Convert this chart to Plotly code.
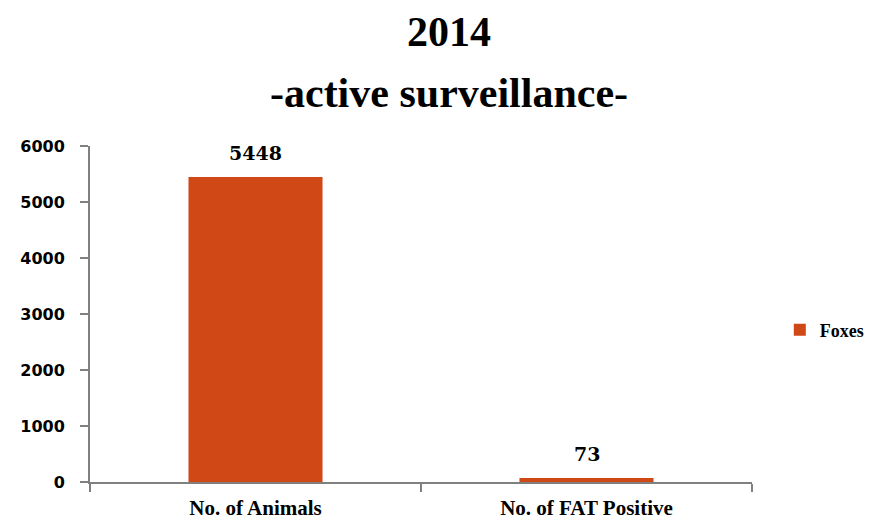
import plotly.graph_objects as go

# chart data
categories = ["No. of Animals", "No. of FAT Positive"]
foxes = [5448, 73]
y_ticks = [0, 1000, 2000, 3000, 4000, 5000, 6000]
title_lines = ["2014", "-active surveillance-"]

bar_color = "#D14817"
axis_color = "#808080"
serif = "Liberation Serif"

fig = go.Figure()
fig.add_trace(go.Bar(
	x=categories, y=foxes, name="Foxes",
	marker=dict(color=bar_color, line=dict(width=0)),
))

# value labels above the bars
for cat, val in zip(categories, foxes):
	fig.add_annotation(
		x=cat, y=val, text=str(val), showarrow=False,
		yanchor="middle", yshift=24,
		font=dict(family="DejaVu Serif", size=19, color="black", weight="bold"),
	)

# two-line title
for txt, ypos in zip(title_lines, [1.338, 1.157]):
	fig.add_annotation(
		x=0.542, y=ypos, xref="paper", yref="paper", text=txt, showarrow=False,
		xanchor="center", yanchor="middle",
		font=dict(family=serif, size=42, color="black", weight="bold"),
	)

fig.update_layout(
	width=881, height=520,
	paper_bgcolor="white", plot_bgcolor="white",
	margin=dict(l=82, r=137, t=138, b=46),
	bargap=0.595,
	legend=dict(
		x=1.042, xanchor="left", y=0.452, yanchor="middle",
		font=dict(family=serif, size=18, color="black", weight="bold"),
		itemwidth=30,
	),
	showlegend=True,
)

fig.update_yaxes(
	range=[0, 6000], tickvals=y_ticks,
	showgrid=False, zeroline=False,
	showline=True, linecolor=axis_color, linewidth=2,
	ticks="outside", ticklen=8, tickcolor=axis_color, tickwidth=2,
	tickfont=dict(family="DejaVu Sans", size=16, color="black", weight="bold"),
	ticklabelstandoff=12,
)
fig.update_xaxes(
	showgrid=False, zeroline=False, automargin=False,
	showline=True, linecolor=axis_color, linewidth=2,
	ticks="outside", ticklen=8, tickcolor=axis_color, tickwidth=2,
	tickson="boundaries",
	tickfont=dict(family=serif, size=21, color="black", weight="bold"),
	ticklabelstandoff=6,
)

fig.write_html("out.html")
